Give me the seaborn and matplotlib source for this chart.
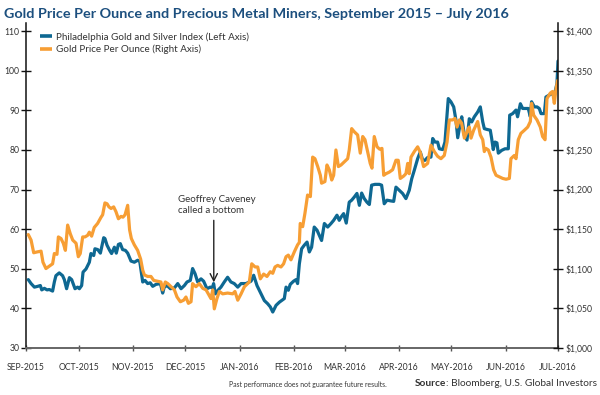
import numpy as np
import pandas as pd
import matplotlib
matplotlib.use("Agg")
import matplotlib.pyplot as plt
import seaborn as sns
from matplotlib import font_manager as fm
from matplotlib.lines import Line2D

# ---------------- DATA ----------------
start_date = "2015-09-01"
# Philadelphia Gold and Silver Index (left axis): day offset from start, value
xau_days = [1.3, 2.9, 4.8, 6.7, 8.2, 9.0, 10.5, 12.0, 13.3, 15.2, 16.2, 17.1, 19.0, 20.9, 21.9,
            23.2, 24.8, 26.1, 28.0, 29.5, 30.5, 31.8, 32.6, 34.3, 36.2, 37.1, 38.7, 39.4, 41.0,
            42.5, 44.4, 45.1, 46.3, 47.8, 48.9, 50.5, 51.6, 52.8, 53.9, 55.2, 56.8, 58.1, 60.0,
            61.9, 63.8, 65.0, 66.7, 68.0, 69.5, 71.0, 72.4, 74.3, 76.8, 78.1, 79.0, 80.6, 82.5,
            84.8, 86.7, 88.6, 90.5, 92.0, 93.9, 95.2, 96.6, 98.1, 100.0, 101.5, 103.4, 105.3,
            106.5, 107.2, 108.2, 109.9, 111.4, 113.3, 115.2, 117.1, 119.0, 121.0, 122.9, 125.7,
            128.6, 130.1, 132.0, 134.3, 136.2, 138.1, 139.6, 141.0, 142.9, 144.8, 147.6, 148.6,
            149.9, 151.0, 152.9, 154.3, 155.2, 156.2, 157.5, 159.0, 160.6, 161.9, 163.2, 164.7,
            166.3, 167.6, 168.9, 170.5, 172.4, 174.3, 175.8, 177.7, 179.0, 180.0, 181.5, 183.0,
            184.7, 186.1, 187.6, 189.1, 190.5, 191.8, 193.3, 194.8, 196.2, 197.5, 199.4, 201.9,
            203.2, 204.7, 206.3, 208.6, 210.1, 211.4, 213.3, 215.2, 217.1, 219.0, 220.4, 221.9,
            223.8, 225.3, 226.7, 228.0, 229.5, 231.4, 232.4, 233.7, 235.2, 236.2, 238.1, 239.4,
            241.3, 242.8, 244.4, 245.7, 246.7, 248.0, 249.0, 250.5, 252.0, 253.3, 254.7, 256.2,
            258.1, 259.6, 261.0, 261.9, 263.4, 265.3, 266.1, 267.0, 268.0, 269.1, 269.9, 271.8,
            273.7, 275.6, 276.4, 278.1, 280.0, 280.9, 282.5, 283.8, 285.7, 287.0, 288.2, 288.9,
            290.5, 292.0, 293.3, 294.3, 296.2, 297.1, 299.0, 300.9, 302.3, 303.4, 304.0]
xau_values = [47.2, 46.2, 45.3, 45.5, 45.7, 44.6, 45.0, 44.6, 44.7, 44.3, 46.6, 48.2, 48.9, 48.2, 47.2,
              44.9, 47.7, 47.2, 44.9, 45.3, 44.9, 45.7, 49.1, 49.9, 51.6, 53.8, 53.3, 55.0, 54.8,
              53.9, 57.8, 57.6, 55.9, 54.6, 53.8, 55.4, 53.9, 56.1, 56.3, 54.8, 54.6, 53.9, 51.9,
              51.6, 52.1, 51.8, 46.6, 47.0, 46.2, 46.4, 45.5, 46.0, 46.2, 43.8, 45.3, 45.7, 44.9,
              45.1, 46.2, 44.9, 45.7, 46.6, 47.0, 50.0, 48.7, 46.6, 47.4, 46.8, 44.9, 45.3,
              45.1, 46.2, 43.6, 44.6, 45.3, 46.6, 47.8, 46.6, 46.2, 45.3, 46.2, 46.2,
              46.8, 48.3, 45.7, 43.6, 41.9, 41.1, 40.3, 39.0, 40.7, 41.5, 42.4, 45.3,
              44.5, 46.0, 46.8, 47.2, 46.2, 51.2, 55.0, 55.9, 56.7, 54.2, 55.4, 60.5,
              59.7, 58.4, 57.1, 61.4, 60.5, 61.4, 62.2, 63.5, 62.2, 63.0, 63.9, 61.5,
              66.8, 67.3, 68.1, 69.0, 66.0, 69.1, 67.7, 66.8, 66.2, 71.1, 71.3, 71.3,
              71.1, 66.4, 67.3, 67.1, 67.0, 70.6, 69.8, 69.0, 67.7, 69.8, 72.7, 74.9,
              77.8, 79.5, 77.4, 77.4, 78.1, 78.2, 82.9, 82.0, 82.0, 80.3, 80.1, 82.0,
              93.0, 92.2, 90.9, 87.5, 83.1, 86.3, 88.4, 83.7, 82.5, 87.9, 87.1, 88.4,
              89.6, 90.9, 87.1, 85.4, 85.2, 85.0, 82.9, 80.1, 82.0, 81.8, 79.2, 79.9,
              80.3, 80.3, 88.8, 89.2, 90.1, 88.4, 91.7, 90.5, 90.5, 90.5, 88.4, 92.2,
              90.9, 90.9, 90.5, 89.2, 89.2, 93.4, 93.9, 94.3, 94.7, 96.8, 102.5]

# Gold price per ounce (right axis, USD): day offset from start, price
gold_days = [1.3, 2.9, 4.4, 6.3, 8.6, 9.7, 11.4, 13.3, 15.2, 16.2, 17.7, 18.5, 20.0, 21.3, 22.5,
             23.8, 25.3, 26.7, 28.6, 29.9, 31.0, 32.4, 33.7, 35.2, 36.2, 37.5, 39.0, 40.9, 42.9,
             43.8, 45.1, 46.3, 47.4, 48.6, 50.1, 51.4, 52.8, 54.3, 55.4, 56.6, 58.1, 59.2, 60.2,
             61.9, 63.8, 65.5, 66.7, 67.6, 69.5, 71.4, 73.0, 75.2, 77.1, 78.1, 79.6, 81.0, 82.9,
             84.8, 86.3, 88.2, 90.1, 91.4, 92.8, 94.3, 95.2, 97.1, 99.0, 101.0, 102.9, 104.2,
             105.7, 106.7, 107.6, 109.1, 110.5, 112.4, 115.2, 118.1, 119.4, 121.0, 122.9, 124.8,
             126.7, 127.6, 129.0, 130.9, 132.4, 133.9, 135.8, 137.7, 139.6, 141.0, 142.3, 143.8,
             145.7, 147.2, 148.6, 149.9, 151.4, 153.3, 155.2, 156.2, 156.7, 158.1, 159.4, 160.9,
             162.5, 163.8, 165.1, 166.7, 168.2, 168.9, 170.8, 172.0, 173.3, 174.7, 175.8, 177.1,
             178.5, 180.0, 181.9, 183.8, 184.7, 186.1, 187.6, 189.5, 191.0, 192.4, 193.7, 194.8,
             196.7, 197.7, 199.0, 200.6, 202.1, 203.4, 204.4, 205.7, 207.6, 209.5, 211.4, 212.7,
             213.9, 215.8, 217.1, 218.1, 219.0, 220.0, 221.9, 223.8, 225.3, 227.2, 229.5, 231.4,
             233.3, 235.2, 237.1, 239.0, 240.6, 241.9, 243.8, 245.1, 246.3, 247.6, 248.9, 250.5,
             252.0, 253.3, 254.3, 255.8, 258.1, 259.6, 261.0, 261.9, 262.8, 264.2, 265.7, 267.2,
             268.6, 270.5, 272.4, 274.3, 276.2, 277.1, 279.0, 280.0, 281.3, 282.8, 284.8, 286.7,
             288.2, 288.9, 290.1, 292.0, 293.9, 295.2, 296.6, 297.7, 299.6, 300.9, 301.9, 302.8,
             303.8]
gold_prices = [1143, 1136, 1120, 1121, 1122, 1108, 1100, 1103, 1106, 1119, 1118, 1140, 1138, 1132, 1123,
               1155, 1144, 1136, 1132, 1115, 1119, 1140, 1140, 1142, 1146, 1141, 1152, 1157, 1165,
               1168, 1183, 1182, 1178, 1176, 1178, 1172, 1163, 1166, 1165, 1168, 1180, 1149, 1138,
               1130, 1123, 1112, 1098, 1092, 1090, 1090, 1085, 1084, 1083, 1073, 1083, 1081, 1077,
               1073, 1064, 1058, 1060, 1064, 1056, 1058, 1081, 1077, 1081, 1075, 1073, 1068,
               1062, 1073, 1049, 1062, 1071, 1068, 1069, 1068, 1071, 1060, 1068, 1077,
               1081, 1083, 1106, 1102, 1102, 1087, 1093, 1090, 1096, 1094, 1102, 1104,
               1102, 1106, 1115, 1117, 1111, 1121, 1130, 1133, 1157, 1153, 1170, 1193,
               1191, 1241, 1239, 1229, 1218, 1208, 1210, 1231, 1225, 1212, 1218, 1250,
               1229, 1231, 1235, 1239, 1250, 1277, 1273, 1269, 1246, 1267, 1263, 1252,
               1233, 1227, 1267, 1254, 1251, 1252, 1218, 1220, 1222, 1225, 1237, 1237,
               1214, 1217, 1220, 1233, 1220, 1241, 1248, 1254, 1247, 1229, 1233, 1256,
               1248, 1242, 1239, 1243, 1260, 1288, 1288, 1290, 1279, 1288, 1284, 1265,
               1273, 1279, 1265, 1275, 1286, 1269, 1263, 1248, 1252, 1250, 1241, 1225,
               1218, 1216, 1214, 1213, 1214, 1239, 1243, 1239, 1263, 1271, 1275, 1279,
               1286, 1309, 1294, 1288, 1279, 1267, 1263, 1315, 1322, 1324, 1309, 1326,
               1338]

month_ticks = ["2015-09-01", "2015-10-01", "2015-11-01", "2015-12-01", "2016-01-01", "2016-02-01",
               "2016-03-01", "2016-04-01", "2016-05-01", "2016-06-01", "2016-07-01"]
month_labels = ["SEP-2015", "OCT-2015", "NOV-2015", "DEC-2015", "JAN-2016", "FEB-2016",
                "MAR-2016", "APR-2016", "MAY-2016", "JUN-2016", "JUL-2016"]
left_ticks = [30, 40, 50, 60, 70, 80, 90, 100, 110]
right_ticks = [1000, 1050, 1100, 1150, 1200, 1250, 1300, 1350, 1400]

series_labels = ["Philadelphia Gold and Silver Index (Left Axis)", "Gold Price Per Ounce (Right Axis)"]
title_text = "Gold Price Per Ounce and Precious Metal Miners, September 2015 \u2013 July 2016"
note_text = "Geoffrey Caveney\ncalled a bottom"
note_day, note_value = 107.3, 46.5
footer_text = "Past performance does not guarantee future results."
source_bold, source_rest = "Source", ": Bloomberg, U.S. Global Investors"

# ---------------- STYLE ----------------
BLUE = "#0E6892"
ORANGE = "#F79E34"
TITLE_C = "#1C4F7E"
TEXT_C = "#333333"

sns.set_style("ticks")
avail = {f.name for f in fm.fontManager.ttflist}
def pick(*names):
    for n in names:
        if n in avail:
            return n
    return "DejaVu Sans"
BODY = pick("Lato", "Roboto", "Liberation Sans")
TITLEF = pick("Lato", "Roboto", "Liberation Sans")
plt.rcParams["font.family"] = [BODY, "DejaVu Sans"]

t0 = pd.Timestamp(start_date)
df_xau = pd.DataFrame({"date": t0 + pd.to_timedelta(xau_days, unit="D"), "value": xau_values})
df_gold = pd.DataFrame({"date": t0 + pd.to_timedelta(gold_days, unit="D"), "price": gold_prices})

W, H = 600, 395
fig = plt.figure(figsize=(6, 3.95), dpi=100)
renderer = fig.canvas.get_renderer()

def width_at(text, size, **kw):
    t = fig.text(0, 0, text, fontsize=size, **kw)
    w = t.get_window_extent(renderer=renderer).width
    t.remove()
    return w

def fit_size(text, target_px, **kw):
    return 10 * target_px / width_at(text, 10, **kw)

left_px, right_px, bottom_px, top_px = 26, 558, 347.6, 23.5
ax = fig.add_axes([left_px / W, 1 - bottom_px / H, (right_px - left_px) / W, (bottom_px - top_px) / H])
ax2 = ax.twinx()

sns.lineplot(data=df_xau, x="date", y="value", ax=ax, color=BLUE, linewidth=2.3, legend=False)
sns.lineplot(data=df_gold, x="date", y="price", ax=ax2, color=ORANGE, linewidth=2.3, legend=False)

ax.set_xlim(pd.Timestamp(month_ticks[0]), pd.Timestamp(month_ticks[-1]))
ax.set_ylim(30, 112)
ax2.set_ylim(1000, 1410)

tick_fs = fit_size("OCT-2015", 41)
ax.set_xticks(pd.to_datetime(month_ticks))
ax.set_xticklabels(month_labels)
ax.set_yticks(left_ticks)
ax.set_yticklabels([str(v) for v in left_ticks])
ax2.set_yticks(right_ticks)
ax2.set_yticklabels(["${:,}".format(v) for v in right_ticks])
for a in (ax, ax2):
    a.set_xlabel("")
    a.set_ylabel("")
    a.spines["top"].set_visible(False)
ax.spines["right"].set_visible(False)
ax2.spines["left"].set_visible(False)
ax2.spines["bottom"].set_visible(False)
ax.spines["left"].set_color("#111111")
ax2.spines["right"].set_color("#111111")
ax.spines["left"].set_linewidth(1.1)
ax2.spines["right"].set_linewidth(1.1)
ax.spines["bottom"].set_color("#666666")
ax.spines["bottom"].set_linewidth(1.4)

ax.tick_params(axis="y", direction="inout", length=7.2, width=1, color="#111111",
               labelsize=tick_fs, labelcolor=TEXT_C, pad=1.2)
ax2.tick_params(axis="y", direction="inout", length=7.2, width=1, color="#111111",
                labelsize=tick_fs, labelcolor=TEXT_C, pad=1.5)
ax.tick_params(axis="x", direction="inout", length=4, width=1, color="#555555",
               labelsize=tick_fs, labelcolor=TEXT_C, pad=9)

# legend
leg_fs = fit_size(series_labels[0], 194)
fs_px = leg_fs * 100 / 72
handles = [Line2D([], [], color=BLUE, lw=2.6, solid_capstyle="butt"),
           Line2D([], [], color=ORANGE, lw=2.6, solid_capstyle="butt")]
fig.legend(handles, series_labels, loc="upper left", bbox_to_anchor=(40 / W, 1 - 32 / H),
           frameon=False, fontsize=leg_fs, labelcolor=TEXT_C, handlelength=12 / fs_px,
           handletextpad=4 / fs_px, labelspacing=0.32, borderpad=0, borderaxespad=0)

# annotation
note_fs = fit_size("Geoffrey Caveney", 78)
ax.annotate("", xy=(t0 + pd.Timedelta(days=note_day), note_value),
            xytext=(t0 + pd.Timedelta(days=note_day), 62.2),
            arrowprops=dict(arrowstyle="->", color="#222222", lw=1.0, mutation_scale=13,
                            shrinkA=0, shrinkB=0))
ax.text(t0 + pd.Timedelta(days=86.9), 66.0, note_text, fontsize=note_fs, color=TEXT_C,
        ha="left", va="center", linespacing=1.3)

# title
title_fs = fit_size(title_text, 505, weight="bold", family=[TITLEF, "DejaVu Sans"])
fig.text(4 / W, 1 - 14 / H, title_text, fontsize=title_fs, weight="bold", color=TITLE_C,
         ha="left", va="center", family=[TITLEF, "DejaVu Sans"])

# footers
foot_fs = fit_size(footer_text, 157)
fig.text(308 / W, 1 - 384 / H, footer_text, fontsize=foot_fs, color=TEXT_C, ha="center", va="center")
wb = width_at(source_bold, 10, weight="bold")
wr = width_at(source_rest, 10)
src_fs = 10 * 182 / (wb + wr)
t_rest = fig.text(597 / W, 1 - 384 / H, source_rest, fontsize=src_fs, color=TEXT_C, ha="right", va="center")
w_rest = t_rest.get_window_extent(renderer=renderer).width
fig.text((597 - w_rest) / W, 1 - 384 / H, source_bold, fontsize=src_fs, color=TEXT_C,
         weight="bold", ha="right", va="center")

fig.savefig("out.png", dpi=100)
